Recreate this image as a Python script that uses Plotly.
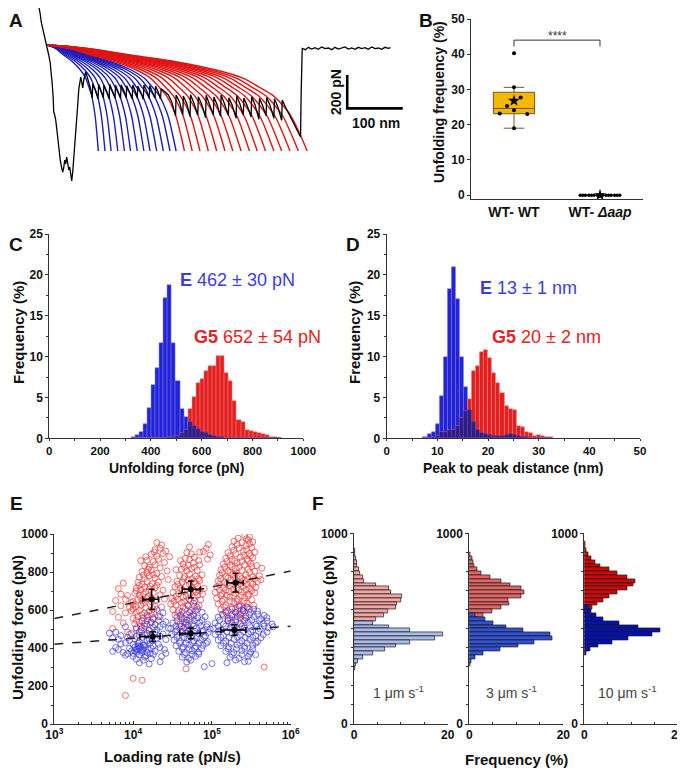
import plotly.graph_objects as go

# The page puts the figure 8 px in from the top-left corner, so the figure is
# 8 px smaller and every position below is given in window pixels.
PAGE_OFFSET = 8
W, H = 685 - PAGE_OFFSET, 769 - PAGE_OFFSET
FONT = "Liberation Sans, Arial, sans-serif"

BLUE = "#2323D6"
RED = "#E31F1F"
OVERLAP = "#2E1D86"
TEXT_BLUE = "#3C3CE2"
TEXT_RED = "#E42222"

# ---------------- A: force-extension trace with WLC fits ----------------
A_TRACE_NM = [-17, -15, -12.6, -10.8, -8.1, -5.4, -2.7, 0, 2.7, 5.4, 7.2, 9, 10.8, 11.7, 13.5,
              15.3, 18, 20.7, 23.4, 26.1, 27.9, 29.7, 31.5, 33.3, 35.1, 36.9, 38.7, 40.5, 42.3,
              44.1, 45.9, 47.7, 49.5, 52.2, 54.9, 56.7, 58.5, 60.3, 62.1, 63.9, 65.7, 67.5, 69.3,
              74, 78, 81, 82, 86.5, 91.5, 92.5, 97, 101, 102, 107, 111.5, 112.5, 117, 122, 123,
              127.5, 132, 133, 137.5, 142, 143, 148, 153, 154, 158, 162, 163, 168, 173, 174, 179,
              183.5, 184.5, 189, 194, 195, 200, 204, 205, 212, 218, 224, 231, 232, 238, 244, 245,
              251, 257, 258, 264, 271, 272, 278, 285, 286, 292, 299, 300, 306, 312, 313, 319, 326,
              327, 333, 340, 341, 347, 353, 354, 360, 367, 368, 374, 381, 382, 388, 394, 395, 401,
              408, 409, 415, 422, 423, 430, 438, 446, 452, 456, 457, 458, 459, 465, 470, 476, 482,
              488, 494, 500, 506, 512, 518, 524, 530, 536, 542, 548, 554, 560, 566, 572, 578, 584,
              590, 596, 602, 608, 614, 618]
A_TRACE_PN = [-264, -234, -186, -138, -102, -54, -18, 6, 60, 108, 162, 234, 318, 402, 420,
              450, 528, 618, 690, 738, 762, 738, 690, 714, 672, 708, 750, 732, 798,
              816, 762, 690, 600, 480, 360, 270, 210, 192, 222, 258, 210, 186, 162,
              215, 262, 318, 232, 272, 322, 236, 274, 316, 240, 282, 324, 236, 270, 318, 242,
              276, 320, 238, 270, 316, 244, 282, 322, 240, 272, 318, 246, 280, 326, 240, 276,
              320, 244, 280, 318, 248, 284, 325, 262, 280, 300, 340, 425, 300, 340, 418, 306,
              350, 430, 298, 348, 420, 310, 355, 436, 302, 352, 418, 312, 360, 428, 300, 352, 422,
              316, 362, 440, 305, 356, 420, 318, 365, 432, 310, 358, 446, 320, 366, 424, 315, 362,
              440, 322, 370, 452, 330, 380, 430, 480, 520, 552, 300, 60, 20, 28, 14, 24, 16,
              26, 12, 22, 18, 28, 14, 24, 20, 12, 24, 18, 26, 14, 22, 16, 26, 12,
              22, 18, 26, 14, 20, 16]
A_E_CONTOUR_NM = [92, 104, 115, 127, 139, 150, 162, 174, 185, 197, 209, 221, 232]
A_G5_CONTOUR_NM = [247, 261, 275, 290, 305, 320, 334, 349, 364, 378, 393, 408, 422, 437, 452, 468]
# shape of one fitted curve: share of the drawn length vs force
A_CURVE_FRACTION = [0, 0.15, 0.32, 0.5, 0.65, 0.75, 0.81, 0.87, 0.91, 0.94, 0.97, 1.0]
A_CURVE_PN = [0, 19, 60, 102, 150, 197, 248, 305, 369, 432, 528, 636]
A_SCALE_NM = 100
A_SCALE_PN = 200

# ---------------- B: unfolding frequency ----------------
B_GROUPS = ["WT- WT", "WT- <i>Δaap</i>"]
B_WT_POINTS = [40.3, 30.6, 27.7, 25.3, 24.1, 23.2, 23.0, 19.0]
B_WT_SPREAD = [0, 0, 0.078, -0.081, 0, -0.166, 0.155, 0]
B_WT_STATS = [19.0, 23.1, 24.6, 29.2, 30.6]  # whisker low, q1, median, q3, whisker high
B_WT_MEAN = 26.8
B_AAP_POINTS = [0] * 15
B_AAP_SPREAD = [-0.23, -0.2, -0.17, -0.13, -0.1, -0.07, -0.03, 0, 0.03, 0.07, 0.1, 0.13, 0.17, 0.2, 0.23]
B_AAP_MEAN = 0
B_SIGNIF = "****"

# ---------------- C: unfolding force histogram ----------------
C_FORCE_BINS = [330, 346, 362, 378, 394, 410, 426, 442, 458, 474, 490, 506, 522, 538, 554, 570,
                586, 602, 618, 634, 650, 666, 682, 698, 714, 730, 746, 762, 778, 794, 810, 826,
                842, 858, 874, 890, 906]
C_E_FREQ = [0.2, 0.4, 0.8, 1.7, 3.7, 6.5, 8.6, 11.7, 17.2, 18.7, 11.7, 7.0, 3.6, 2.6, 2.0, 1.5,
            1.1, 0.8, 0.6, 0.4, 0.3, 0.2, 0.1, 0, 0, 0, 0, 0, 0, 0, 0, 0,
            0, 0, 0, 0, 0]
C_G5_FREQ = [0, 0, 0, 0, 0, 0, 0, 0, 0, 0.1, 0.2, 0.3, 0.6, 1.0, 3.6, 5.0,
             6.8, 7.2, 8.2, 8.9, 8.8, 10.1, 10.1, 8.0, 7.0, 4.6, 2.2, 2.0, 1.0, 0.9, 0.8, 0.6,
             0.5, 0.4, 0.2, 0.1, 0.05]
C_E_TEXT = "<b>E</b> 462 ± 30 pN"
C_G5_TEXT = "<b>G5</b> 652 ± 54 pN"

# ---------------- D: peak-to-peak distance histogram ----------------
D_DIST_BINS = [7.6, 8.4, 9.2, 10.0, 10.8, 11.6, 12.4, 13.2, 14.0, 14.8, 15.6, 16.4, 17.2, 18.0,
               18.8, 19.6, 20.4, 21.2, 22.0, 22.8, 23.6, 24.4, 25.2, 26.0, 26.8, 27.6, 28.4,
               29.2, 30.0, 30.8, 31.6, 32.4]
D_E_FREQ = [0.2, 0.5, 0.8, 1.7, 5.2, 10.0, 18.3, 21.0, 17.0, 10.0, 6.3, 3.5, 2.0, 1.0,
            0.6, 0.5, 0.4, 0.3, 0.3, 0.3, 0.4, 0.5, 0.4, 0.3, 0.2, 0.1, 0,
            0, 0, 0, 0, 0]
D_G5_FREQ = [0, 0, 0.1, 0.3, 0.8, 0.8, 1.0, 1.0, 1.5, 2.5, 3.3, 4.8, 8.2, 8.8,
             10.6, 10.8, 9.8, 8.0, 6.8, 5.6, 4.0, 3.6, 3.5, 1.5, 1.4, 0.8, 0.7,
             0.3, 0.4, 0.3, 0.2, 0.1]
D_E_TEXT = "<b>E</b> 13 ± 1 nm"
D_G5_TEXT = "<b>G5</b> 20 ± 2 nm"

# ---------------- E: dynamic force spectroscopy (loading rate pN/s, force pN) ----------------
E_G5_POINTS = [
    (2.0e4, 955), (2.3e4, 942), (1.9e4, 918), (2.2e4, 926), (2.6e4, 910),
    (1.7e4, 893), (2.0e4, 884), (2.4e4, 897), (1.5e4, 862), (1.8e4, 855), (2.1e4, 868), (2.5e4, 850),
    (1.4e4, 833), (1.6e4, 826), (1.9e4, 838), (2.2e4, 822),
    (1.3e4, 803), (1.5e4, 796), (1.7e4, 810), (2.0e4, 792), (2.7e4, 806),
    (1.2e4, 772), (1.4e4, 765), (1.6e4, 780), (1.9e4, 768), (2.3e4, 776),
    (7.5e3, 742), (1.15e4, 745), (1.3e4, 736), (1.5e4, 750), (1.75e4, 738), (2.1e4, 747),
    (6.5e3, 712), (1.1e4, 715), (1.25e4, 706), (1.4e4, 720), (1.6e4, 708), (1.9e4, 716), (2.4e4, 704),
    (7.0e3, 683), (8.5e3, 676), (1.05e4, 688), (1.2e4, 678), (1.35e4, 685), (1.55e4, 672), (1.8e4, 690), (2.2e4, 680),
    (6.0e3, 650), (8.0e3, 656), (1.0e4, 645), (1.15e4, 655), (1.3e4, 648), (1.5e4, 660), (1.7e4, 644), (2.0e4, 652), (2.5e4, 658),
    (7.0e3, 622), (9.0e3, 615), (1.0e4, 628), (1.1e4, 618), (1.25e4, 625), (1.45e4, 612), (1.65e4, 630), (1.9e4, 620), (2.3e4, 616),
    (5.5e3, 592), (8.0e3, 585), (9.5e3, 596), (1.1e4, 588), (1.2e4, 598), (1.4e4, 584), (1.6e4, 594), (1.85e4, 590),
    (6.5e3, 562), (1.0e4, 556), (1.15e4, 566), (1.35e4, 558), (1.55e4, 564), (1.8e4, 552),
    (7.5e3, 532), (1.05e4, 526), (1.2e4, 536), (1.4e4, 528), (1.7e4, 534),
    (5.5e3, 502), (1.1e4, 498), (1.3e4, 506), (1.6e4, 495), (9.0e3, 472), (1.2e4, 468), (1.5e4, 476), (8.5e3, 484),
    (1.25e4, 860), (1.45e4, 880), (1.85e4, 905), (1.55e4, 815), (1.35e4, 785), (1.8e4, 785),
    (1.2e4, 730), (1.65e4, 725), (2.0e4, 730), (1.1e4, 700), (1.45e4, 695), (1.7e4, 665),
    (1.25e4, 665), (9.5e3, 640), (1.35e4, 635), (1.8e4, 605), (1.0e4, 605), (1.3e4, 575),
    (1.7e4, 575), (1.1e4, 545), (1.5e4, 545), (1.25e4, 515), (2.1e4, 565), (2.8e4, 760), (2.9e4, 880),
    (8.0e3, 150), (1.0e4, 240), (1.3e4, 230),
    (5.2e4, 932), (8.5e4, 925), (4.8e4, 902), (5.5e4, 895), (7.8e4, 908), (9.5e4, 890),
    (4.6e4, 872), (5.2e4, 865), (6.0e4, 878), (8.8e4, 868),
    (3.5e4, 812), (4.3e4, 842), (5.0e4, 836), (5.8e4, 848), (7.0e4, 838),
    (4.1e4, 815), (4.8e4, 806), (5.5e4, 818), (6.5e4, 808),
    (3.9e4, 782), (4.5e4, 776), (5.2e4, 788), (6.2e4, 778), (7.5e4, 785),
    (3.6e4, 752), (4.2e4, 746), (5.0e4, 758), (5.9e4, 748), (7.0e4, 755),
    (3.4e4, 722), (4.0e4, 716), (4.7e4, 728), (5.6e4, 718), (6.6e4, 725), (8.0e4, 714),
    (3.2e4, 692), (3.8e4, 686), (4.5e4, 698), (5.3e4, 688), (6.3e4, 695), (7.6e4, 684),
    (3.1e4, 662), (3.7e4, 656), (4.3e4, 668), (5.1e4, 658), (6.0e4, 665), (7.2e4, 654),
    (3.0e4, 632), (3.5e4, 626), (4.1e4, 638), (4.9e4, 628), (5.8e4, 635), (6.9e4, 624),
    (3.2e4, 602), (3.8e4, 596), (4.6e4, 606), (5.5e4, 598), (6.6e4, 604),
    (3.4e4, 572), (4.0e4, 566), (4.8e4, 576), (5.9e4, 568),
    (3.6e4, 542), (4.4e4, 536), (5.3e4, 546), (3.9e4, 512), (4.9e4, 506), (4.2e4, 482),
    (4.0e4, 860), (6.8e4, 860), (4.5e4, 825), (6.0e4, 825), (4.4e4, 765), (5.6e4, 765),
    (6.8e4, 765), (3.7e4, 735), (5.2e4, 735), (6.2e4, 738), (4.2e4, 705), (5.8e4, 705),
    (7.0e4, 700), (3.5e4, 672), (4.7e4, 675), (6.6e4, 678), (3.3e4, 645), (4.5e4, 645),
    (5.4e4, 648), (4.3e4, 615), (6.0e4, 618), (3.7e4, 585), (5.2e4, 588), (4.1e4, 555),
    (4.7e4, 525), (9.0e4, 945), (7.0e4, 905),
    (4.7e4, 290),
    (2.6e5, 992), (3.0e5, 985), (1.9e5, 962), (2.4e5, 955), (2.9e5, 968), (3.3e5, 958),
    (1.8e5, 932), (2.2e5, 926), (2.7e5, 938), (3.2e5, 928),
    (1.6e5, 902), (2.0e5, 896), (2.5e5, 908), (3.0e5, 898), (3.5e5, 905),
    (1.5e5, 872), (1.8e5, 866), (2.3e5, 878), (2.8e5, 868), (3.3e5, 875),
    (1.4e5, 842), (1.7e5, 836), (2.1e5, 848), (2.6e5, 838), (3.1e5, 845), (3.7e5, 834),
    (1.3e5, 812), (1.6e5, 806), (2.0e5, 818), (2.4e5, 808), (2.9e5, 815), (3.5e5, 804),
    (1.25e5, 782), (1.5e5, 776), (1.85e5, 788), (2.25e5, 778), (2.7e5, 785), (3.3e5, 774), (4.0e5, 780),
    (1.2e5, 752), (1.45e5, 746), (1.75e5, 758), (2.15e5, 748), (2.6e5, 755), (3.1e5, 744), (3.8e5, 750),
    (1.15e5, 722), (1.4e5, 716), (1.7e5, 728), (2.05e5, 718), (2.5e5, 725), (3.0e5, 714), (3.6e5, 720),
    (1.1e5, 692), (1.35e5, 686), (1.65e5, 698), (2.0e5, 688), (2.4e5, 695), (2.9e5, 684), (3.5e5, 690),
    (1.15e5, 662), (1.4e5, 656), (1.7e5, 668), (2.1e5, 658), (2.6e5, 665), (3.2e5, 654),
    (1.2e5, 632), (1.5e5, 626), (1.9e5, 638), (2.3e5, 628), (2.8e5, 635), (3.4e5, 624),
    (1.3e5, 602), (1.6e5, 596), (2.0e5, 606), (2.5e5, 598), (3.0e5, 604),
    (1.4e5, 572), (1.8e5, 566), (2.2e5, 576), (2.7e5, 568),
    (1.6e5, 542), (2.0e5, 536), (2.5e5, 546), (1.8e5, 512), (2.3e5, 506),
    (2.15e5, 978), (2.75e5, 975), (2.1e5, 945), (3.0e5, 948), (1.9e5, 915), (2.75e5, 918),
    (1.7e5, 885), (2.55e5, 888), (3.1e5, 885), (1.55e5, 855), (1.95e5, 858), (2.4e5, 855),
    (2.9e5, 858), (1.45e5, 825), (1.8e5, 828), (2.2e5, 825), (3.2e5, 828), (1.35e5, 795),
    (1.7e5, 798), (2.05e5, 795), (3.0e5, 798), (1.3e5, 765), (1.6e5, 768), (1.95e5, 768),
    (2.4e5, 766), (2.85e5, 765), (3.5e5, 764), (1.25e5, 735), (1.55e5, 738), (1.9e5, 735),
    (2.3e5, 738), (2.8e5, 734), (3.3e5, 736), (1.25e5, 705), (1.5e5, 705), (1.85e5, 708),
    (2.2e5, 704), (2.7e5, 706), (3.2e5, 702), (1.3e5, 675), (1.55e5, 678), (1.9e5, 675),
    (2.35e5, 676), (2.9e5, 674), (1.35e5, 645), (1.7e5, 646), (2.1e5, 644), (2.55e5, 646),
    (1.45e5, 615), (1.8e5, 614), (2.25e5, 616), (2.8e5, 612), (1.5e5, 585), (2.0e5, 588),
    (2.45e5, 586), (1.7e5, 556), (2.3e5, 558), (4.3e5, 820), (4.2e5, 760),
    (4.6e5, 300),
]
E_E_POINTS = [
    (2.0e4, 602), (1.5e4, 572), (2.2e4, 566),
    (1.3e4, 542), (1.7e4, 536), (2.1e4, 546), (2.6e4, 538),
    (8.0e3, 512), (1.1e4, 506), (1.4e4, 515), (1.8e4, 508), (2.2e4, 512), (2.8e4, 504),
    (5.0e3, 478), (6.0e3, 484), (9.5e3, 476), (1.2e4, 486), (1.5e4, 478), (1.9e4, 484), (2.4e4, 474),
    (5.5e3, 452), (6.5e3, 446), (8.5e3, 455), (1.05e4, 448), (1.3e4, 456), (1.6e4, 446), (2.0e4, 452), (2.6e4, 444),
    (7.0e3, 422), (8.0e3, 428), (1.0e4, 418), (1.15e4, 425), (1.35e4, 416), (1.65e4, 426), (2.1e4, 420),
    (6.0e3, 402), (9.0e3, 398), (1.05e4, 405), (1.2e4, 396), (1.4e4, 404), (1.7e4, 398), (2.2e4, 402),
    (5.5e3, 382), (7.5e3, 376), (9.5e3, 384), (1.1e4, 378), (1.25e4, 386), (1.5e4, 376), (1.9e4, 382),
    (8.0e3, 362), (1.0e4, 356), (1.2e4, 364), (1.45e4, 358), (1.8e4, 366), (2.3e4, 356),
    (1.1e4, 342), (1.35e4, 336), (1.7e4, 344), (1.2e4, 322), (1.6e4, 316), (2.2e4, 328),
    (1.1e4, 392), (1.3e4, 388), (1.2e4, 410), (1.0e4, 372),
    (1.15e4, 395), (1.25e4, 405), (1.05e4, 385), (1.35e4, 395), (1.15e4, 412), (1.3e4, 376),
    (1.4e4, 415), (1.2e4, 432), (1.5e4, 436), (1.75e4, 438), (1.8e4, 412), (1.55e4, 392),
    (1.65e4, 372), (1.4e4, 352), (9.0e3, 440), (1.1e4, 462), (1.4e4, 468), (1.7e4, 462),
    (2.2e4, 462), (1.6e4, 492), (2.0e4, 496), (1.25e4, 496), (1.5e4, 525), (1.9e4, 522),
    (2.4e4, 525), (1.8e4, 555), (2.4e4, 585), (7.0e3, 465), (6.5e3, 392), (8.5e3, 370),
    (2.5e4, 392), (2.6e4, 372),
    (6.0e4, 648), (5.0e4, 622), (6.5e4, 616),
    (4.2e4, 592), (5.2e4, 586), (6.2e4, 596), (7.5e4, 588),
    (3.6e4, 562), (4.4e4, 556), (5.4e4, 566), (6.6e4, 558), (8.2e4, 564),
    (3.2e4, 532), (3.9e4, 526), (4.7e4, 536), (5.7e4, 528), (7.0e4, 535), (8.8e4, 524),
    (3.0e4, 502), (3.6e4, 496), (4.4e4, 506), (5.3e4, 498), (6.4e4, 505), (7.8e4, 494), (9.5e4, 500),
    (3.1e4, 472), (3.8e4, 466), (4.6e4, 476), (5.6e4, 468), (6.8e4, 475), (8.3e4, 464),
    (3.3e4, 442), (4.0e4, 436), (4.9e4, 446), (5.9e4, 438), (7.2e4, 445), (8.8e4, 434),
    (3.5e4, 412), (4.3e4, 406), (5.2e4, 416), (6.3e4, 408), (7.7e4, 414),
    (3.8e4, 382), (4.6e4, 376), (5.6e4, 386), (6.8e4, 378),
    (4.2e4, 352), (5.1e4, 346), (6.2e4, 356), (4.8e4, 326), (8.0e4, 302),
    (4.0e4, 575), (5.8e4, 578), (4.8e4, 548), (6.0e4, 545), (7.5e4, 548), (3.5e4, 515),
    (4.1e4, 515), (5.0e4, 518), (5.9e4, 516), (7.2e4, 515), (8.6e4, 512), (3.4e4, 486),
    (4.1e4, 488), (5.0e4, 485), (6.1e4, 488), (7.4e4, 486), (9.0e4, 482), (3.6e4, 456),
    (4.4e4, 455), (5.4e4, 458), (6.5e4, 455), (8.0e4, 456), (3.9e4, 426), (4.7e4, 425),
    (5.7e4, 428), (6.9e4, 426), (8.5e4, 424), (4.2e4, 396), (5.1e4, 395), (6.1e4, 398),
    (7.4e4, 396), (4.5e4, 365), (5.6e4, 366), (6.8e4, 368), (5.4e4, 336),
    (2.2e5, 622), (2.8e5, 616),
    (1.5e5, 592), (2.0e5, 586), (2.5e5, 596), (3.1e5, 588), (3.8e5, 594),
    (1.2e5, 562), (1.6e5, 556), (2.1e5, 566), (2.7e5, 558), (3.4e5, 565), (4.2e5, 554), (5.0e5, 560),
    (1.1e5, 532), (1.4e5, 526), (1.8e5, 536), (2.3e5, 528), (2.9e5, 535), (3.6e5, 524), (4.5e5, 530), (5.8e5, 526),
    (1.05e5, 502), (1.3e5, 496), (1.7e5, 506), (2.1e5, 498), (2.6e5, 505), (3.3e5, 494), (4.1e5, 500), (5.2e5, 506),
    (1.1e5, 472), (1.4e5, 466), (1.8e5, 476), (2.3e5, 468), (2.9e5, 475), (3.6e5, 464), (4.5e5, 470),
    (1.2e5, 442), (1.5e5, 436), (1.9e5, 446), (2.4e5, 438), (3.0e5, 445), (3.8e5, 434),
    (1.3e5, 412), (1.65e5, 406), (2.1e5, 416), (2.6e5, 408), (3.3e5, 414),
    (1.5e5, 382), (1.9e5, 376), (2.4e5, 386), (3.1e5, 378),
    (1.7e5, 352), (2.2e5, 346), (2.9e5, 356), (1.55e5, 322), (2.6e5, 328),
    (1.8e5, 605), (2.5e5, 608), (3.4e5, 605), (1.35e5, 578), (1.8e5, 575), (2.3e5, 578),
    (3.0e5, 575), (3.8e5, 578), (4.6e5, 572), (1.25e5, 546), (1.6e5, 545), (2.0e5, 548),
    (2.6e5, 546), (3.2e5, 548), (4.0e5, 545), (5.0e5, 542), (1.2e5, 515), (1.5e5, 516),
    (1.9e5, 518), (2.4e5, 515), (3.0e5, 518), (3.7e5, 514), (4.6e5, 516), (6.0e5, 512),
    (1.2e5, 486), (1.55e5, 485), (1.95e5, 488), (2.5e5, 486), (3.1e5, 485), (3.9e5, 488),
    (5.0e5, 484), (1.3e5, 456), (1.65e5, 455), (2.1e5, 458), (2.65e5, 455), (3.3e5, 456),
    (4.2e5, 454), (1.4e5, 426), (1.75e5, 425), (2.25e5, 428), (2.8e5, 425), (3.6e5, 426),
    (1.6e5, 396), (2.05e5, 395), (2.6e5, 398), (3.3e5, 396), (1.8e5, 366), (2.4e5, 365),
    (3.0e5, 368), (2.0e5, 336), (1.0e5, 318), (2.9e5, 330), (3.6e5, 365),
]
E_FIT_RATE = [1e3, 1e6]
E_FIT_G5 = [555, 805]
E_FIT_E = [420, 515]
E_G5_MEAN_RATE = [1.72e4, 5.4e4, 2.0e5]
E_G5_RATE_LOW = [1.32e4, 4.2e4, 1.55e5]
E_G5_RATE_HIGH = [2.1e4, 7.1e4, 2.5e5]
E_G5_MEAN_FORCE = [656, 709, 744]
E_G5_FORCE_SD = [53, 44, 49]
E_E_MEAN_RATE = [1.78e4, 5.4e4, 1.93e5]
E_E_RATE_LOW = [1.22e4, 3.9e4, 1.3e5]
E_E_RATE_HIGH = [2.2e4, 7.1e4, 2.7e5]
E_E_MEAN_FORCE = [460, 477, 495]
E_E_FORCE_SD = [26, 28, 28]

# ---------------- F: force histograms per pulling speed ----------------
F_SPEEDS = ["1 μm s<sup>-1</sup>", "3 μm s<sup>-1</sup>", "10 μm s<sup>-1</sup>"]
F1_G5_FORCE = [910, 890, 870, 850, 830, 810, 790, 770, 750, 730, 710, 690, 670, 650, 630, 610, 590, 570, 550, 530, 510]
F1_G5_FREQ = [0.2, 0.3, 0.4, 0.6, 0.7, 1.0, 1.3, 2.0, 2.1, 4.6, 7.5, 8.0, 10.2, 10.0, 9.1, 9.0, 7.3, 6.3, 4.8, 2.8, 2.0]
F1_E_FORCE = [530, 510, 490, 470, 450, 430, 410, 390, 370, 350, 330, 310, 290]
F1_E_FREQ = [4.0, 7.5, 12.0, 18.9, 17.3, 12.0, 9.0, 6.6, 4.0, 1.9, 0.9, 0.4, 0.2]
F2_G5_FORCE = [890, 870, 850, 830, 810, 790, 770, 750, 730, 710, 690, 670, 650, 630, 610, 590, 570, 550, 530]
F2_G5_FREQ = [0.3, 0.6, 0.9, 1.1, 1.8, 2.6, 4.5, 6.9, 8.7, 11.1, 11.8, 11.1, 8.3, 8.5, 6.9, 4.8, 3.0, 1.7, 1.0]
F2_E_FORCE = [570, 550, 530, 510, 490, 470, 450, 430, 410, 390, 370, 350, 330, 310]
F2_E_FREQ = [1.2, 3.3, 5.1, 7.8, 11.5, 17.2, 17.7, 13.8, 10.4, 6.5, 3.0, 1.2, 0.5, 0.2]
F3_G5_FORCE = [950, 930, 910, 890, 870, 850, 830, 810, 790, 770, 750, 730, 710, 690, 670, 650, 630, 610, 590]
F3_G5_FREQ = [0.2, 0.3, 0.5, 0.9, 1.4, 2.3, 3.4, 5.4, 7.0, 9.2, 11.0, 10.5, 9.3, 7.1, 5.4, 4.1, 2.8, 1.8, 0.9]
F3_E_FORCE = [610, 590, 570, 550, 530, 510, 490, 470, 450, 430, 410, 390, 370]
F3_E_FREQ = [1.0, 1.5, 2.5, 4.0, 7.5, 11.5, 16.2, 14.5, 9.5, 6.0, 3.0, 1.2, 0.4]
F_G5_COLORS = ["#F2A7A4", "#E16666", "#D00808"]
F_E_COLORS = ["#ABBBEA", "#3152D2", "#0510B4"]


def px(x, y):
    """Window pixel position to paper coordinates."""
    return (x - PAGE_OFFSET) / W, 1 - (y - PAGE_OFFSET) / H


def xdom(x0, x1):
    return [(x0 - PAGE_OFFSET) / W, (x1 - PAGE_OFFSET) / W]


def ydom(y_top, y_bottom):
    return [1 - (y_bottom - PAGE_OFFSET) / H, 1 - (y_top - PAGE_OFFSET) / H]


TICKFONT = dict(family=FONT, size=12, color="#111", weight="bold")
SMALL_TICKFONT = dict(family=FONT, size=11.5, color="#111", weight="bold")


def axis(domain, **kw):
    base = dict(domain=domain, showline=True, linecolor="#333", linewidth=1, ticks="outside",
                ticklen=3, tickwidth=1, tickcolor="#333", showgrid=False, zeroline=False,
                tickfont=TICKFONT, fixedrange=True, automargin=False)
    base.update(kw)
    return base


def minor(**kw):
    base = dict(ticks="outside", ticklen=2, tickcolor="#333", showgrid=False)
    base.update(kw)
    return base


fig = go.Figure()

# ---- A ----
for contour in A_E_CONTOUR_NM:
    fig.add_trace(go.Scatter(x=[f * contour for f in A_CURVE_FRACTION], y=A_CURVE_PN, mode="lines",
                             line=dict(color="#1F1FB8", width=1.4, shape="spline"),
                             xaxis="x", yaxis="y", hoverinfo="skip"))
for contour in A_G5_CONTOUR_NM:
    fig.add_trace(go.Scatter(x=[f * contour for f in A_CURVE_FRACTION], y=A_CURVE_PN, mode="lines",
                             line=dict(color="#E01414", width=1.4, shape="spline"),
                             xaxis="x", yaxis="y", hoverinfo="skip"))
fig.add_trace(go.Scatter(x=A_TRACE_NM, y=A_TRACE_PN, mode="lines",
                         line=dict(color="black", width=1.3), xaxis="x", yaxis="y"))
bar_x0, bar_top = 540, 180
fig.add_trace(go.Scatter(x=[bar_x0, bar_x0, bar_x0 + A_SCALE_NM],
                         y=[bar_top, bar_top + A_SCALE_PN, bar_top + A_SCALE_PN],
                         mode="lines", line=dict(color="black", width=2.6), xaxis="x", yaxis="y"))

# ---- B ----
fig.add_trace(go.Box(x=[1], q1=[B_WT_STATS[1]], median=[B_WT_STATS[2]], q3=[B_WT_STATS[3]],
                     lowerfence=[B_WT_STATS[0]], upperfence=[B_WT_STATS[4]],
                     width=0.48, whiskerwidth=0.5, fillcolor="#F5B700",
                     line=dict(color="#6b5a2a", width=1), boxpoints=False,
                     xaxis="x2", yaxis="y2"))
fig.add_trace(go.Scatter(x=[1 + s for s in B_WT_SPREAD], y=B_WT_POINTS, mode="markers",
                         marker=dict(color="black", size=4), xaxis="x2", yaxis="y2"))
fig.add_trace(go.Scatter(x=[2 + s for s in B_AAP_SPREAD], y=B_AAP_POINTS, mode="markers",
                         marker=dict(color="black", size=3.5), xaxis="x2", yaxis="y2"))
fig.add_trace(go.Scatter(x=[1, 2], y=[B_WT_MEAN, B_AAP_MEAN], mode="markers",
                         marker=dict(color="black", size=9, symbol="star"), xaxis="x2", yaxis="y2"))

# ---- C and D ----
for bins, e_freq, g5_freq, xa, ya in [
        (C_FORCE_BINS, C_E_FREQ, C_G5_FREQ, "x3", "y3"),
        (D_DIST_BINS, D_E_FREQ, D_G5_FREQ, "x4", "y4")]:
    overlap = [min(a, b) for a, b in zip(e_freq, g5_freq)]
    fig.add_trace(go.Bar(x=bins, y=e_freq, marker=dict(color=BLUE, line=dict(color="#7878F0", width=0.5)),
                         xaxis=xa, yaxis=ya))
    fig.add_trace(go.Bar(x=bins, y=g5_freq, marker=dict(color=RED, line=dict(color="#F08080", width=0.5)),
                         xaxis=xa, yaxis=ya))
    fig.add_trace(go.Bar(x=bins, y=overlap, marker=dict(color=OVERLAP, line=dict(color="#5a4ab0", width=0.5)),
                         xaxis=xa, yaxis=ya))

# ---- E ----
fig.add_trace(go.Scatter(x=[p[0] for p in E_G5_POINTS], y=[p[1] for p in E_G5_POINTS], mode="markers",
                         marker=dict(symbol="circle-open", size=6, color="rgba(238,55,55,0.7)",
                                     line=dict(width=1)),
                         xaxis="x5", yaxis="y5"))
fig.add_trace(go.Scatter(x=[p[0] for p in E_E_POINTS], y=[p[1] for p in E_E_POINTS], mode="markers",
                         marker=dict(symbol="circle-open", size=6, color="rgba(60,60,225,0.7)",
                                     line=dict(width=1)),
                         xaxis="x5", yaxis="y5"))
for fit in (E_FIT_G5, E_FIT_E):
    fig.add_trace(go.Scatter(x=E_FIT_RATE, y=fit, mode="lines",
                             line=dict(color="#222", width=1.5, dash="dash"), xaxis="x5", yaxis="y5"))
for rate, low, high, force, sd in [
        (E_G5_MEAN_RATE, E_G5_RATE_LOW, E_G5_RATE_HIGH, E_G5_MEAN_FORCE, E_G5_FORCE_SD),
        (E_E_MEAN_RATE, E_E_RATE_LOW, E_E_RATE_HIGH, E_E_MEAN_FORCE, E_E_FORCE_SD)]:
    fig.add_trace(go.Scatter(
        x=rate, y=force, mode="markers",
        marker=dict(color="black", size=6),
        error_x=dict(type="data", symmetric=False,
                     array=[h - r for h, r in zip(high, rate)],
                     arrayminus=[r - l for r, l in zip(rate, low)],
                     color="black", thickness=1.5, width=3),
        error_y=dict(type="data", array=sd, color="black", thickness=1.5, width=3),
        xaxis="x5", yaxis="y5"))

# ---- F ----
F_DATA = [(F1_G5_FORCE, F1_G5_FREQ, F1_E_FORCE, F1_E_FREQ),
          (F2_G5_FORCE, F2_G5_FREQ, F2_E_FORCE, F2_E_FREQ),
          (F3_G5_FORCE, F3_G5_FREQ, F3_E_FORCE, F3_E_FREQ)]
for i, (gf, gv, ef, ev) in enumerate(F_DATA):
    xa, ya = f"x{6 + i}", f"y{6 + i}"
    fig.add_trace(go.Bar(y=gf, x=gv, orientation="h",
                         marker=dict(color=F_G5_COLORS[i], line=dict(color="#1a1a1a", width=0.7)),
                         xaxis=xa, yaxis=ya))
    fig.add_trace(go.Bar(y=ef, x=ev, orientation="h",
                         marker=dict(color=F_E_COLORS[i], line=dict(color="#1a1a1a", width=0.7)),
                         xaxis=xa, yaxis=ya))

# ---- axes ----
layout = dict(
    width=W, height=H, margin=dict(l=0, r=0, t=0, b=0, autoexpand=False),
    paper_bgcolor="white", plot_bgcolor="white", showlegend=False,
    barmode="overlay", bargap=0, font=dict(family=FONT, color="#111"),
    xaxis=dict(domain=xdom(30, 410), range=[-31, 653], visible=False, fixedrange=True, automargin=False),
    yaxis=dict(domain=ydom(PAGE_OFFSET, 190), range=[870, -222], visible=False, fixedrange=True,
               automargin=False),
    xaxis2=axis(xdom(471, 643), anchor="y2", range=[0.5, 2.5], tickvals=[1, 2], ticktext=B_GROUPS,
                ticks="", tickfont=dict(family=FONT, size=14, color="#111", weight="bold")),
    yaxis2=axis(ydom(19, 199), anchor="x2", range=[-1.1, 50], tickvals=[0, 10, 20, 30, 40, 50]),
    xaxis3=axis(xdom(49.3, 303.3), anchor="y3", range=[0, 1000], dtick=200, minor=minor(dtick=100),
                ticklen=2, tickfont=SMALL_TICKFONT),
    yaxis3=axis(ydom(234, 438.3), anchor="x3", range=[0, 25], dtick=5, minor=minor(dtick=2.5)),
    xaxis4=axis(xdom(386.7, 640), anchor="y4", range=[0, 50], dtick=10, minor=minor(dtick=5),
                ticklen=2, tickfont=SMALL_TICKFONT),
    yaxis4=axis(ydom(234, 438.3), anchor="x4", range=[0, 25], dtick=5, minor=minor(dtick=2.5)),
    xaxis5=axis(xdom(54.3, 290.7), anchor="y5", type="log", range=[3, 6],
                tickvals=[1e3, 1e4, 1e5, 1e6],
                ticktext=["10<sup>3</sup>", "10<sup>4</sup>", "10<sup>5</sup>", "10<sup>6</sup>"],
                ticks="inside",
                minor=minor(ticks="inside", tickvals=[m * 10 ** k for k in (3, 4, 5) for m in range(2, 10)])),
    yaxis5=axis(ydom(534, 724), anchor="x5", range=[0, 1000], dtick=200, minor=minor(dtick=100)),
)
for i, (x0, x1) in enumerate([(354, 447.7), (469.3, 563.3), (584.3, 677.7)]):
    layout[f"xaxis{6 + i}"] = axis(xdom(x0, x1), anchor=f"y{6 + i}", range=[0, 20], tickvals=[0, 20],
                                   ticks="inside", minor=minor(ticks="inside", tickvals=[5, 10, 15]))
    layout[f"yaxis{6 + i}"] = axis(ydom(533.3, 724), anchor=f"x{6 + i}", range=[0, 1000],
                                   tickvals=[0, 1000], minor=minor(dtick=100))
fig.update_layout(**layout)

# significance bracket in B
fig.add_shape(type="path", path="M 1,42.2 L 1,44 L 2,44 L 2,42.2", xref="x2", yref="y2",
              line=dict(color="#333", width=1))


def note(text, x, y, size=15, angle=0, color="#111", xanchor="center"):
    ax_, ay_ = px(x, y)
    fig.add_annotation(text=text, x=ax_, y=ay_, xref="paper", yref="paper", showarrow=False,
                       textangle=angle, xanchor=xanchor, yanchor="middle",
                       font=dict(family=FONT, size=size, color=color))


for letter, x, y in [("A", 16, 20), ("B", 426, 20), ("C", 16, 244), ("D", 353, 244),
                     ("E", 16, 503), ("F", 318, 503)]:
    note(f"<b>{letter}</b>", x, y, size=19)

note("<b>200 pN</b>", 336, 92, size=14, angle=-90)
note("<b>100 nm</b>", 376, 123, size=14)
note(B_SIGNIF, 557, 36, size=12, color="#333")
note("<b>Unfolding frequency (%)</b>", 439, 102, size=14, angle=-90)
note("<b>Frequency (%)</b>", 19, 333, angle=-90)
note("<b>Unfolding force (pN)</b>", 176, 468, size=14)
note("<b>Frequency (%)</b>", 355, 333, angle=-90)
note("<b>Peak to peak distance (nm)</b>", 513, 468, size=14)
note(C_E_TEXT, 178, 280, size=18, color=TEXT_BLUE, xanchor="left")
note(C_G5_TEXT, 192, 337, size=18, color=TEXT_RED, xanchor="left")
note(D_E_TEXT, 478, 288, size=18, color=TEXT_BLUE, xanchor="left")
note(D_G5_TEXT, 490, 337, size=18, color=TEXT_RED, xanchor="left")
note("<b>Unfolding force (pN)</b>", 17, 628, angle=-90)
note("<b>Loading rate (pN/s)</b>", 172, 756)
note("<b>Unfolding force (pN)</b>", 328, 628, angle=-90)
note("<b>Frequency (%)</b>", 516, 759)
for label, x in zip(F_SPEEDS, [398, 511, 627]):
    note(label, x, 692, size=14, color="#444")

fig.write_html("out.html")
